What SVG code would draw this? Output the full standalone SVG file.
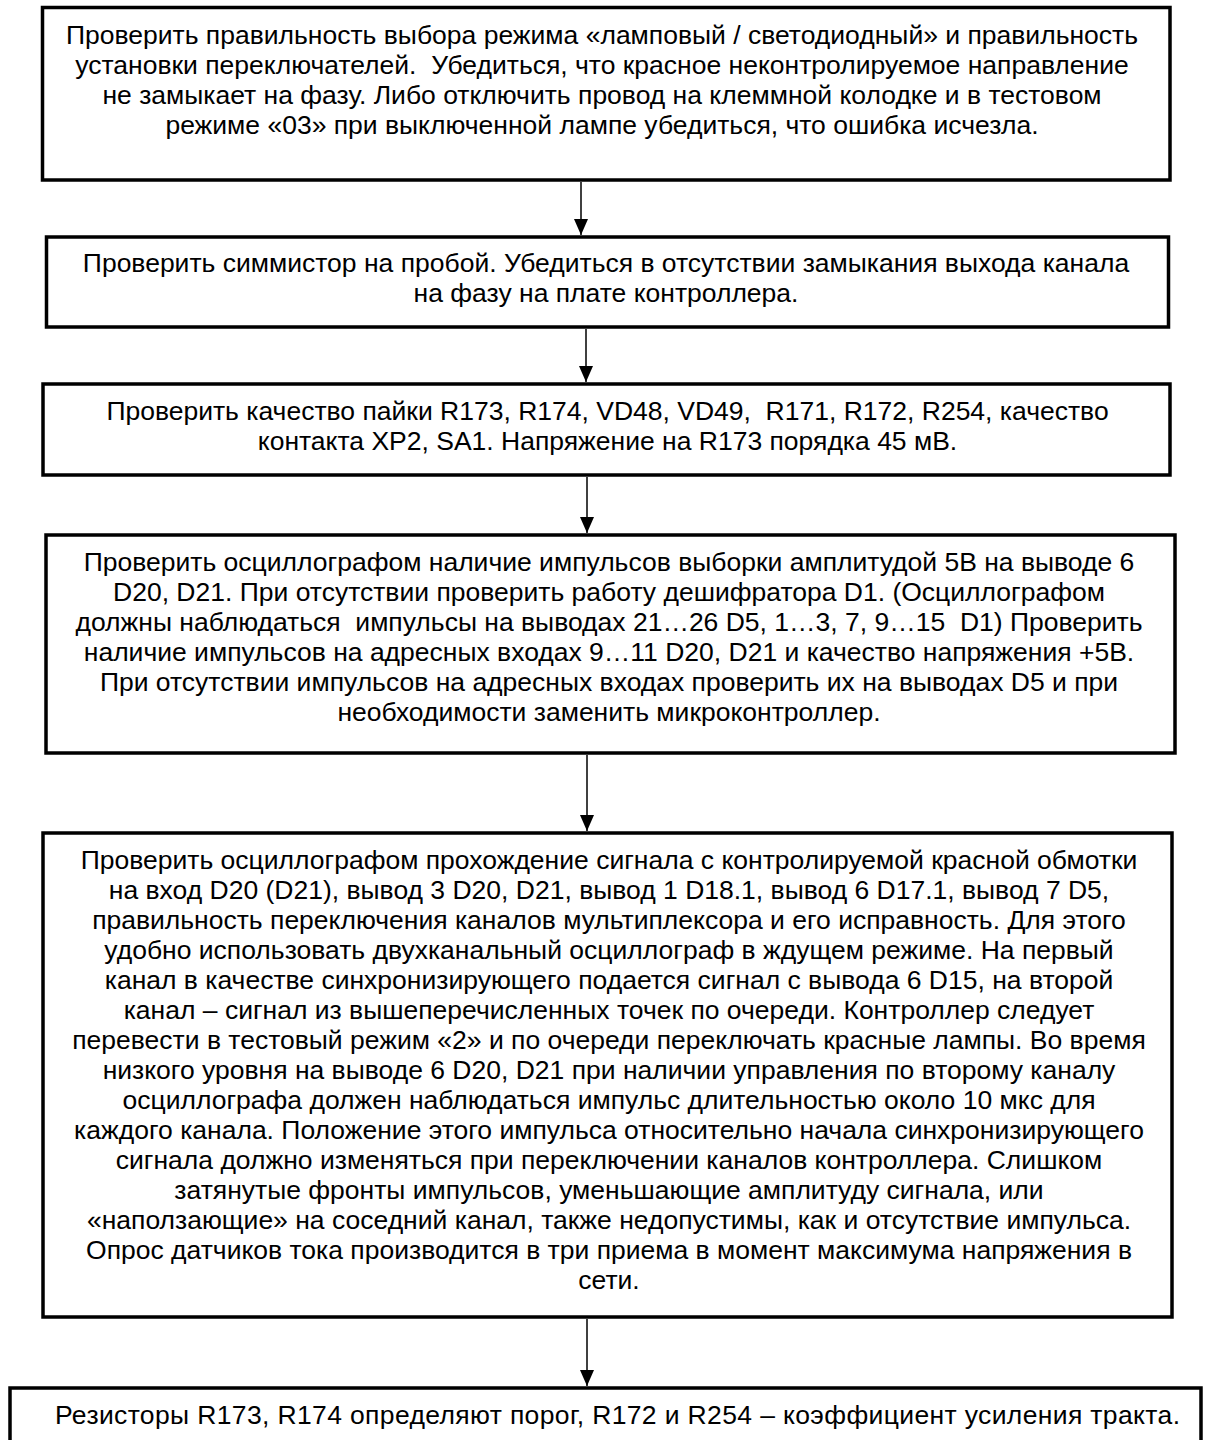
<svg xmlns="http://www.w3.org/2000/svg" width="1205" height="1440" viewBox="0 0 1205 1440">
<defs>
<style>
.box{fill:#fff;stroke:#000;stroke-width:3.5}
.t{font-family:"Liberation Sans",Arial,sans-serif;font-size:26.5px;fill:#000;text-anchor:middle;white-space:pre}
.c{stroke:#000;stroke-width:1.5;fill:none}
</style>
<marker id="ah" markerUnits="userSpaceOnUse" markerWidth="16" markerHeight="16" viewBox="0 0 16 16" refX="16" refY="8" orient="auto">
<path d="M0,1 L16,8 L0,15 Z" fill="#000"/>
</marker>
</defs>
<rect width="1205" height="1440" fill="#fff"/>
<g id="connectors">
<line class="c" x1="581" y1="182" x2="581" y2="235" marker-end="url(#ah)"/>
<line class="c" x1="586" y1="329" x2="586" y2="382" marker-end="url(#ah)"/>
<line class="c" x1="587" y1="477" x2="587" y2="533" marker-end="url(#ah)"/>
<line class="c" x1="587" y1="755" x2="587" y2="831" marker-end="url(#ah)"/>
<line class="c" x1="587" y1="1319" x2="587" y2="1386" marker-end="url(#ah)"/>
</g>
<g id="n1">
<rect class="box" x="42.5" y="7.5" width="1127.5" height="172.5"/>
<text class="t" x="602" y="43.5">Проверить правильность выбора режима «ламповый / светодиодный» и правильность</text>
<text class="t" x="602" y="73.5">установки переключателей.  Убедиться, что красное неконтролируемое направление</text>
<text class="t" x="602" y="103.5">не замыкает на фазу. Либо отключить провод на клеммной колодке и в тестовом</text>
<text class="t" x="602" y="133.5">режиме «03» при выключенной лампе убедиться, что ошибка исчезла.</text>
</g>
<g id="n2">
<rect class="box" x="46.5" y="237" width="1122" height="90"/>
<text class="t" x="606" y="271.5">Проверить симмистор на пробой. Убедиться в отсутствии замыкания выхода канала</text>
<text class="t" x="606" y="301.5">на фазу на плате контроллера.</text>
</g>
<g id="n3">
<rect class="box" x="43" y="384" width="1127" height="91"/>
<text class="t" x="607.5" y="419.5">Проверить качество пайки R173, R174, VD48, VD49,  R171, R172, R254, качество</text>
<text class="t" x="607.5" y="449.5">контакта XP2, SA1. Напряжение на R173 порядка 45 мВ.</text>
</g>
<g id="n4">
<rect class="box" x="46" y="535" width="1129" height="218"/>
<text class="t" x="609" y="570.5">Проверить осциллографом наличие импульсов выборки амплитудой 5В на выводе 6</text>
<text class="t" x="609" y="600.5">D20, D21. При отсутствии проверить работу дешифратора D1. (Осциллографом</text>
<text class="t" x="609" y="630.5">должны наблюдаться  импульсы на выводах 21…26 D5, 1…3, 7, 9…15  D1) Проверить</text>
<text class="t" x="609" y="660.5">наличие импульсов на адресных входах 9…11 D20, D21 и качество напряжения +5В.</text>
<text class="t" x="609" y="690.5">При отсутствии импульсов на адресных входах проверить их на выводах D5 и при</text>
<text class="t" x="609" y="720.5">необходимости заменить микроконтроллер.</text>
</g>
<g id="n5">
<rect class="box" x="43" y="833" width="1129" height="484"/>
<text class="t" x="609" y="868.5">Проверить осциллографом прохождение сигнала с контролируемой красной обмотки</text>
<text class="t" x="609" y="898.5">на вход D20 (D21), вывод 3 D20, D21, вывод 1 D18.1, вывод 6 D17.1, вывод 7 D5,</text>
<text class="t" x="609" y="928.5">правильность переключения каналов мультиплексора и его исправность. Для этого</text>
<text class="t" x="609" y="958.5">удобно использовать двухканальный осциллограф в ждущем режиме. На первый</text>
<text class="t" x="609" y="988.5">канал в качестве синхронизирующего подается сигнал с вывода 6 D15, на второй</text>
<text class="t" x="609" y="1018.5">канал – сигнал из вышеперечисленных точек по очереди. Контроллер следует</text>
<text class="t" x="609" y="1048.5">перевести в тестовый режим «2» и по очереди переключать красные лампы. Во время</text>
<text class="t" x="609" y="1078.5">низкого уровня на выводе 6 D20, D21 при наличии управления по второму каналу</text>
<text class="t" x="609" y="1108.5">осциллографа должен наблюдаться импульс длительностью около 10 мкс для</text>
<text class="t" x="609" y="1138.5">каждого канала. Положение этого импульса относительно начала синхронизирующего</text>
<text class="t" x="609" y="1168.5">сигнала должно изменяться при переключении каналов контроллера. Слишком</text>
<text class="t" x="609" y="1198.5">затянутые фронты импульсов, уменьшающие амплитуду сигнала, или</text>
<text class="t" x="609" y="1228.5">«наползающие» на соседний канал, также недопустимы, как и отсутствие импульса.</text>
<text class="t" x="609" y="1258.5">Опрос датчиков тока производится в три приема в момент максимума напряжения в</text>
<text class="t" x="609" y="1288.5">сети.</text>
</g>
<g id="n6">
<rect class="box" x="10" y="1388" width="1191" height="70"/>
<text class="t" x="617.5" y="1423.5" textLength="1125" lengthAdjust="spacing">Резисторы R173, R174 определяют порог, R172 и R254 – коэффициент усиления тракта.</text>
</g>
</svg>
